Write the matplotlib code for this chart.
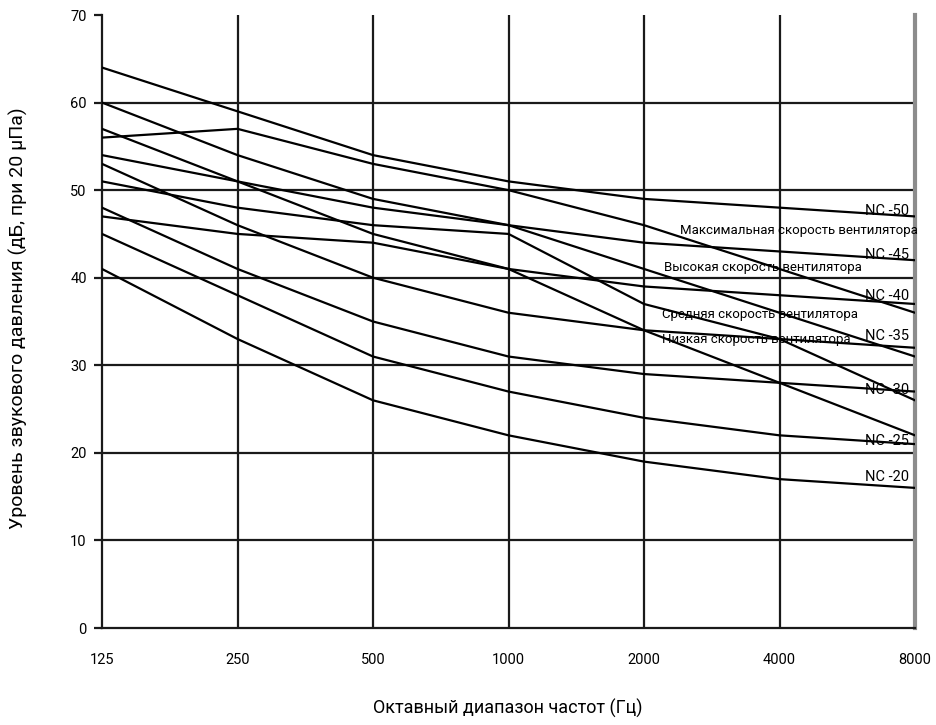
import matplotlib
matplotlib.use("Agg")
import matplotlib.pyplot as plt

plt.rcParams['font.family'] = ['Roboto', 'DejaVu Sans']

freqs = [125, 250, 500, 1000, 2000, 4000, 8000]
freq_labels = ["125", "250", "500", "1000", "2000", "4000", "8000"]

nc_names = ["NC -50", "NC -45", "NC -40", "NC -35", "NC -30", "NC -25", "NC -20"]
nc50 = [64, 59, 54, 51, 49, 48, 47]
nc45 = [60, 54, 49, 46, 44, 43, 42]
nc40 = [57, 51, 45, 41, 39, 38, 37]
nc35 = [53, 46, 40, 36, 34, 33, 32]
nc30 = [48, 41, 35, 31, 29, 28, 27]
nc25 = [45, 38, 31, 27, 24, 22, 21]
nc20 = [41, 33, 26, 22, 19, 17, 16]

fan_names = ["Максимальная скорость вентилятора", "Высокая скорость вентилятора",
             "Средняя скорость вентилятора", "Низкая скорость вентилятора"]
fan_max = [56, 57, 53, 50, 46, 41, 36]
fan_high = [54, 51, 48, 46, 41, 36, 31]
fan_med = [51, 48, 46, 45, 37, 33, 26]
fan_low = [47, 45, 44, 41, 34, 28, 22]

yticks = [0, 10, 20, 30, 40, 50, 60, 70]

fig = plt.figure(figsize=(9.36, 7.25), dpi=100)
ax = fig.add_axes([102/936, 1-628/725, (915-102)/936, (628-15)/725])
ax.set_xscale('log', base=2)
ax.set_xlim(125, 8000)
ax.set_ylim(0, 70)

grid_c = '#1a1a1a'
for v in yticks[1:-1]:
    ax.axhline(v, color=grid_c, lw=1.6, zorder=1)
for f in freqs[1:-1]:
    ax.axvline(f, color=grid_c, lw=1.6, zorder=1)

for series in [nc50, nc45, nc40, nc35, nc30, nc25, nc20,
               fan_max, fan_high, fan_med, fan_low]:
    ax.plot(freqs, series, color='black', lw=1.6, zorder=3, solid_joinstyle='round')

# NC labels
nc_label_y = [47.65, 42.6, 37.9, 33.4, 27.2, 21.3, 17.2]
for name, yv in zip(nc_names, nc_label_y):
    ax.text(7750, yv, name, ha='right', va='center', fontsize=10.5, zorder=4)

fan_label_pos = [(2405, 45.4), (2216, 41.2), (2193, 35.85), (2193, 32.9)]
for name, (xv, yv) in zip(fan_names, fan_label_pos):
    ax.text(xv, yv, name, ha='left', va='center', fontsize=9.5, zorder=4)

ax.set_xticks(freqs)
ax.set_xticklabels(freq_labels)
ax.xaxis.set_minor_locator(matplotlib.ticker.NullLocator())
ax.set_yticks(yticks)
ax.tick_params(axis='x', length=0, pad=18, labelsize=10.5)
ax.tick_params(axis='y', length=6, width=1.6, color=grid_c, pad=5, labelsize=10.5)

ax.spines['top'].set_visible(False)
ax.spines['left'].set_color(grid_c)
ax.spines['left'].set_linewidth(1.6)
ax.spines['bottom'].set_color(grid_c)
ax.spines['bottom'].set_linewidth(1.6)
ax.spines['right'].set_color('#8c8c8c')
ax.spines['right'].set_linewidth(3)

fig.text(508/936, 1-708/725, "Октавный диапазон частот (Гц)", ha='center', va='center', fontsize=13)
fig.text(18/936, 1-318/725, "Уровень звукового давления (дБ, при 20 µПа)", ha='center', va='center',
         rotation=90, fontsize=14)

fig.savefig("out.png", dpi=100)
